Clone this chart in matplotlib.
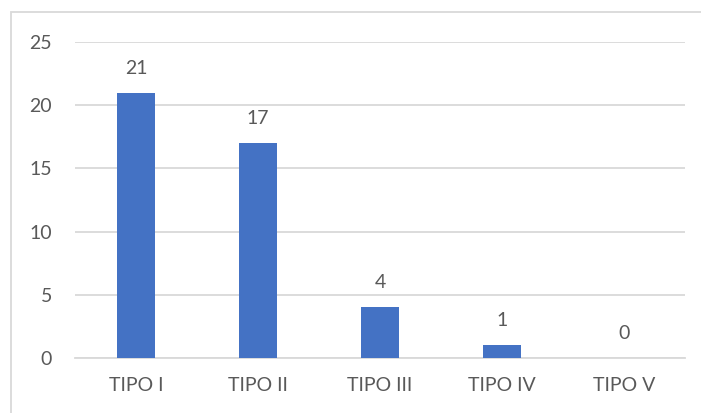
import matplotlib.pyplot as plt
from matplotlib.patches import Rectangle

categories = ["TIPO I", "TIPO II", "TIPO III", "TIPO IV", "TIPO V"]
counts = [21, 17, 4, 1, 0]
y_ticks = [0, 5, 10, 15, 20, 25]

BAR_COLOR = "#4472C4"
TEXT_COLOR = "#595959"
GRID_COLOR = "#D9D9D9"

plt.rcParams["font.family"] = ["Lato", "DejaVu Sans"]

fig = plt.figure(figsize=(7.01, 4.13), dpi=100)
ax = fig.add_axes([75 / 701, 55 / 413, 610 / 701, 316 / 413])

# chart frame (top and left edges visible)
fig.patches.append(Rectangle((11 / 701, -0.05), 1.0, 1.05 - 12.5 / 413,
                             transform=fig.transFigure, fill=False,
                             edgecolor=GRID_COLOR, linewidth=1.3))

x = range(len(categories))
bars = ax.bar(x, counts, width=0.31, color=BAR_COLOR, zorder=3)

for rect, value in zip(bars, counts):
    ax.annotate(str(value), (rect.get_x() + rect.get_width() / 2, value),
                xytext=(0, 11.5), textcoords="offset points",
                ha="center", va="bottom", fontsize=14, color=TEXT_COLOR)

ax.set_xlim(-0.5, len(categories) - 0.5)
ax.set_ylim(0, 25)
ax.set_yticks(y_ticks)
ax.set_xticks(list(x))
ax.set_xticklabels(categories)
ax.yaxis.grid(True, color=GRID_COLOR, linewidth=1.3, zorder=0)
ax.set_axisbelow(True)

for side in ["top", "right", "left"]:
    ax.spines[side].set_visible(False)
ax.spines["bottom"].set_color(GRID_COLOR)
ax.spines["bottom"].set_linewidth(1.3)

ax.tick_params(axis="both", length=0, labelsize=14, colors=TEXT_COLOR)
ax.tick_params(axis="y", pad=16.5)
ax.tick_params(axis="x", pad=14)

fig.savefig("out.png", dpi=100)
